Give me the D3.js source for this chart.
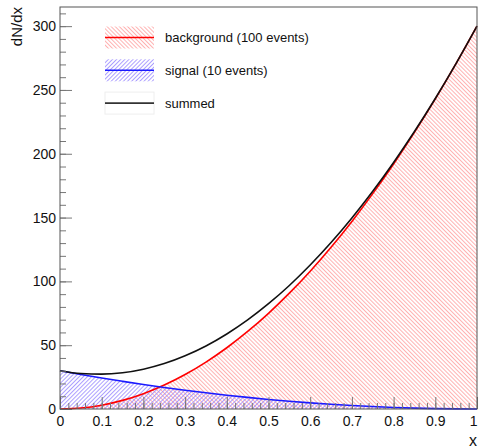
<!DOCTYPE html>
<html>
<head>
<meta charset="utf-8">
<script src="https://cdn.jsdelivr.net/npm/d3@7"></script>
<style>
  body { margin: 0; background: #fff; }
  svg { display: block; font-family: "Liberation Sans", Arial, sans-serif; }
</style>
</head>
<body>
<svg width="478" height="448"></svg>
<script>
(function () {
  'use strict';

  var xs = [0, 0.05, 0.1, 0.15, 0.2, 0.25, 0.3, 0.35, 0.4, 0.45, 0.5,
            0.55, 0.6, 0.65, 0.7, 0.75, 0.8, 0.85, 0.9, 0.95, 1];
  var background = [0, 0.75, 3, 6.75, 12, 18.75, 27, 36.75, 48, 60.75, 75,
                    90.75, 108, 126.75, 147, 168.75, 192, 216.75, 243, 270.75, 300];
  var signal = [30, 27.1, 24.3, 21.7, 19.2, 16.9, 14.7, 12.7, 10.8, 9.1, 7.5,
                6.1, 4.8, 3.7, 2.7, 1.9, 1.2, 0.7, 0.3, 0.1, 0];
  var summed = [30, 27.8, 27.3, 28.4, 31.2, 35.6, 41.7, 49.4, 58.8, 69.8, 82.5,
                96.8, 112.8, 130.4, 149.7, 170.6, 193.2, 217.4, 243.3, 270.8, 300];

  var xTicks = [0, 0.1, 0.2, 0.3, 0.4, 0.5, 0.6, 0.7, 0.8, 0.9, 1];
  var xLabels = ['0', '0.1', '0.2', '0.3', '0.4', '0.5', '0.6', '0.7', '0.8', '0.9', '1'];
  var yTicks = [0, 50, 100, 150, 200, 250, 300];

  var legendNames = ['background (100 events)', 'signal (10 events)', 'summed'];

  var left = 60, right = 477, top = 7, bottom = 409;

  var x = d3.scaleLinear().domain([0, 1]).range([left, right]);
  var y = d3.scaleLinear().domain([0, 315]).range([bottom, top]);

  var svg = d3.select('svg');

  // hatch patterns, like ROOT fill styles 3005 (\\\) and 3004 (///)
  var defs = svg.append('defs');
  function hatch (id, angle, colour) {
    defs.append('pattern')
        .attr('id', id)
        .attr('patternUnits', 'userSpaceOnUse')
        .attr('width', 2.9).attr('height', 10)
        .attr('patternTransform', 'rotate(' + angle + ')')
      .append('line')
        .attr('x1', 0.5).attr('y1', 0)
        .attr('x2', 0.5).attr('y2', 10)
        .attr('stroke', colour)
        .attr('stroke-width', 0.8);
  }
  hatch('hatchRed', -45, '#ff9c9c');
  hatch('hatchBlue', 45, '#9585ff');

  var rows = xs.map(function (d, i) {
    return { x: d, bg: background[i], sig: signal[i], sum: summed[i] };
  });

  function area (key) {
    return d3.area()
        .x(function (d) { return x(d.x); })
        .y0(y(0))
        .y1(function (d) { return y(d[key]); })
        .curve(d3.curveMonotoneX);
  }
  function line (key) {
    return d3.line()
        .x(function (d) { return x(d.x); })
        .y(function (d) { return y(d[key]); })
        .curve(d3.curveMonotoneX);
  }

  svg.append('path').datum(rows)
      .attr('d', area('bg'))
      .attr('fill', 'url(#hatchRed)');
  svg.append('path').datum(rows)
      .attr('d', area('sig'))
      .attr('fill', 'url(#hatchBlue)');

  svg.append('path').datum(rows)
      .attr('d', line('bg'))
      .attr('fill', 'none').attr('stroke', '#ff0000').attr('stroke-width', 1.6);
  svg.append('path').datum(rows)
      .attr('d', line('sig'))
      .attr('fill', 'none').attr('stroke', '#1a1aff').attr('stroke-width', 1.6);
  svg.append('path').datum(rows)
      .attr('d', line('sum'))
      .attr('fill', 'none').attr('stroke', '#111').attr('stroke-width', 1.6);

  // axes: ticks point into the frame
  var yMinor = svg.append('g')
      .attr('transform', 'translate(' + left + ',0)')
      .call(d3.axisLeft(y).tickValues(d3.range(0, 311, 10)).tickSize(-6).tickFormat(''));
  var yMajor = svg.append('g')
      .attr('transform', 'translate(' + left + ',0)')
      .call(d3.axisLeft(y).tickValues(yTicks).tickSize(-12).tickPadding(4));

  var xMinor = svg.append('g')
      .attr('transform', 'translate(0,' + bottom + ')')
      .call(d3.axisBottom(x).tickValues(d3.range(0, 51).map(function (i) { return i / 50; }))
        .tickSize(-6).tickFormat(''));
  var xMajor = svg.append('g')
      .attr('transform', 'translate(0,' + bottom + ')')
      .call(d3.axisBottom(x).tickValues(xTicks).tickSize(-12).tickPadding(7)
        .tickFormat(function (d, i) { return xLabels[i]; }));

  [yMinor, yMajor, xMinor, xMajor].forEach(function (g) {
    g.select('.domain').remove();
    g.selectAll('line').attr('stroke', '#777');
    g.selectAll('text')
        .attr('fill', '#111')
        .style('font-size', '14px');
  });
  // the last label sits on the window edge; pull it inside
  xMajor.selectAll('text')
      .filter(function (d) { return d === 1; })
      .attr('text-anchor', 'end');

  // frame
  svg.append('rect')
      .attr('x', left).attr('y', top)
      .attr('width', right - left).attr('height', bottom - top)
      .attr('fill', 'none')
      .attr('stroke', '#555')
      .attr('stroke-width', 1);

  // axis titles
  svg.append('text')
      .attr('transform', 'translate(22,' + top + ') rotate(-90)')
      .attr('text-anchor', 'end')
      .style('font-size', '15px')
      .attr('fill', '#111')
      .text('dN/dx');
  svg.append('text')
      .attr('x', 477).attr('y', 446)
      .attr('text-anchor', 'end')
      .style('font-size', '16px')
      .attr('fill', '#111')
      .text('x');

  // legend
  var fills = ['url(#hatchRed)', 'url(#hatchBlue)', '#fff'];
  var strokes = ['#ff0000', '#1a1aff', '#333'];
  var legend = svg.selectAll('g.entry')
      .data(legendNames)
      .enter()
      .append('g')
      .attr('class', 'entry')
      .attr('transform', function (d, i) {
        return 'translate(105,' + (37.5 + i * 32.8) + ')';
      });

  legend.append('rect')
      .attr('x', 0).attr('y', -11)
      .attr('width', 49).attr('height', 22)
      .attr('fill', function (d, i) { return fills[i]; })
      .attr('stroke', function (d, i) { return i === 2 ? '#eee' : 'none'; });
  legend.append('line')
      .attr('x1', 0).attr('x2', 49)
      .attr('stroke', function (d, i) { return strokes[i]; })
      .attr('stroke-width', 1.6);
  legend.append('text')
      .attr('x', 60).attr('y', 4.5)
      .style('font-size', '13px')
      .attr('fill', '#111')
      .text(function (d) { return d; });
} ());
</script>
</body>
</html>
